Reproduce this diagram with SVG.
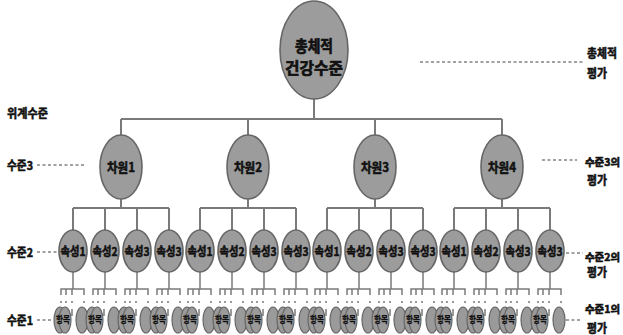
<svg xmlns="http://www.w3.org/2000/svg" width="623" height="335" viewBox="0 0 623 335">
<style>
text{font-family:"Noto Sans CJK KR","Noto Sans",sans-serif;font-weight:bold;fill:#111;stroke:#111;stroke-width:0.55;}
.e{fill:#9c9c9c;stroke:#666;stroke-width:1.6;}
.s{fill:#9a9a9a;stroke:#666;stroke-width:1.2;}
.ln{stroke:#7a7a7a;stroke-width:2;fill:none;}
.fk{stroke:#7a7a7a;stroke-width:1.5;fill:none;}
.ds{stroke:#444;stroke-width:1.2;fill:none;stroke-dasharray:3 2.5;}
.c{text-anchor:middle;}
.t1{font-size:16px;stroke-width:0.7;}
.t2{font-size:13px;}
.t3{font-size:12px;}
.lb{font-size:12px;}
.rb{font-size:10.5px;stroke-width:0.6;}
.lf{font-size:9px;stroke-width:0.3;}
</style>
<g id="connectors">
<path class="ln" d="M314 98V119M121 119H502M121 119V135M248 119V135M375 119V135M502 119V135"/>
<path class="ln" d="M121 199V208M73 208H169M73 208V230M105 208V230M137 208V230M169 208V230"/>
<path class="ln" d="M248 199V208M200 208H296M200 208V230M232 208V230M264 208V230M296 208V230"/>
<path class="ln" d="M375 199V208M327 208H423M327 208V230M359 208V230M391 208V230M423 208V230"/>
<path class="ln" d="M502 199V208M454 208H550M454 208V230M486 208V230M518 208V230M550 208V230"/>
<path class="fk" d="M73 272V289M61 295V289H84V295M66 289V295M72 289V295 M105 272V289M93 295V289H116V295M98 289V295M104 289V295 M137 272V289M125 295V289H148V295M130 289V295M136 289V295 M169 272V289M157 295V289H180V295M162 289V295M168 289V295"/>
<path class="fk" d="M200 272V289M188 295V289H211V295M193 289V295M199 289V295 M232 272V289M220 295V289H243V295M225 289V295M231 289V295 M264 272V289M252 295V289H275V295M257 289V295M263 289V295 M296 272V289M284 295V289H307V295M289 289V295M295 289V295"/>
<path class="fk" d="M327 272V289M315 295V289H338V295M320 289V295M326 289V295 M359 272V289M347 295V289H370V295M352 289V295M358 289V295 M391 272V289M379 295V289H402V295M384 289V295M390 289V295 M423 272V289M411 295V289H434V295M416 289V295M422 289V295"/>
<path class="fk" d="M454 272V289M442 295V289H465V295M447 289V295M453 289V295 M486 272V289M474 295V289H497V295M479 289V295M485 289V295 M518 272V289M506 295V289H529V295M511 289V295M517 289V295 M550 272V289M538 295V289H561V295M543 289V295M549 289V295"/>
<path class="fk" d="M61 301v2M66 301v2M72 301v2M84 301v2M93 301v2M98 301v2M104 301v2M116 301v2M125 301v2M130 301v2M136 301v2M148 301v2M157 301v2M162 301v2M168 301v2M180 301v2M188 301v2M193 301v2M199 301v2M211 301v2M220 301v2M225 301v2M231 301v2M243 301v2M252 301v2M257 301v2M263 301v2M275 301v2M284 301v2M289 301v2M295 301v2M307 301v2M315 301v2M320 301v2M326 301v2M338 301v2M347 301v2M352 301v2M358 301v2M370 301v2M379 301v2M384 301v2M390 301v2M402 301v2M411 301v2M416 301v2M422 301v2M434 301v2M442 301v2M447 301v2M453 301v2M465 301v2M474 301v2M479 301v2M485 301v2M497 301v2M506 301v2M511 301v2M517 301v2M529 301v2M538 301v2M543 301v2M549 301v2M561 301v2"/>
<path class="fk" d="M72 309v7M84 309v7M104 309v7M116 309v7M136 309v7M148 309v7M168 309v7M180 309v7M199 309v7M211 309v7M231 309v7M243 309v7M263 309v7M275 309v7M295 309v7M307 309v7M326 309v7M338 309v7M358 309v7M370 309v7M390 309v7M402 309v7M422 309v7M434 309v7M453 309v7M465 309v7M485 309v7M497 309v7M517 309v7M529 309v7M549 309v7M561 309v7"/>
<path class="ds" d="M420 62H585M37 165H85M542 160H577M37 252H58M566 253H583M37 320H52M566 320H582"/>
</g>
<g id="level-labels">
<text class="lb" x="7" y="118" textLength="41" lengthAdjust="spacingAndGlyphs">위계수준</text>
<text class="lb" x="7" y="170" textLength="26" lengthAdjust="spacingAndGlyphs">수준3</text>
<text class="lb" x="7" y="257" textLength="26" lengthAdjust="spacingAndGlyphs">수준2</text>
<text class="lb" x="7" y="325" textLength="26" lengthAdjust="spacingAndGlyphs">수준1</text>
<text class="lb" x="587" y="58" textLength="30" lengthAdjust="spacingAndGlyphs">총체적</text>
<text class="lb" x="587" y="78" textLength="20" lengthAdjust="spacingAndGlyphs">평가</text>
<text class="rb" x="585" y="166" textLength="35" lengthAdjust="spacingAndGlyphs">수준3의</text>
<text class="lb" x="587" y="185" textLength="20" lengthAdjust="spacingAndGlyphs">평가</text>
<text class="rb" x="585" y="261" textLength="35" lengthAdjust="spacingAndGlyphs">수준2의</text>
<text class="lb" x="587" y="277" textLength="20" lengthAdjust="spacingAndGlyphs">평가</text>
<text class="rb" x="585" y="313" textLength="35" lengthAdjust="spacingAndGlyphs">수준1의</text>
<text class="lb" x="587" y="333" textLength="20" lengthAdjust="spacingAndGlyphs">평가</text>
</g>
<g id="root">
<ellipse class="e" cx="314" cy="50" rx="34" ry="49"/>
<text class="t1 c" x="314" y="52" textLength="38" lengthAdjust="spacingAndGlyphs">총체적</text>
<text class="t1 c" x="314" y="74" textLength="58" lengthAdjust="spacingAndGlyphs">건강수준</text>
</g>
<g id="dim1"><ellipse class="e" cx="121" cy="167" rx="21" ry="32"/><text class="t2 c" x="121" y="172" textLength="28" lengthAdjust="spacingAndGlyphs">차원1</text></g>
<g id="dim2"><ellipse class="e" cx="248" cy="167" rx="21" ry="32"/><text class="t2 c" x="248" y="172" textLength="28" lengthAdjust="spacingAndGlyphs">차원2</text></g>
<g id="dim3"><ellipse class="e" cx="375" cy="167" rx="21" ry="32"/><text class="t2 c" x="375" y="172" textLength="28" lengthAdjust="spacingAndGlyphs">차원3</text></g>
<g id="dim4"><ellipse class="e" cx="502" cy="167" rx="21" ry="32"/><text class="t2 c" x="502" y="172" textLength="28" lengthAdjust="spacingAndGlyphs">차원4</text></g>
<g id="attr-1-1"><ellipse class="e" cx="73" cy="251" rx="14" ry="21"/><text class="t3 c" x="73" y="256" textLength="25" lengthAdjust="spacingAndGlyphs">속성1</text></g>
<g id="attr-1-2"><ellipse class="e" cx="105" cy="251" rx="14" ry="21"/><text class="t3 c" x="105" y="256" textLength="25" lengthAdjust="spacingAndGlyphs">속성2</text></g>
<g id="attr-1-3"><ellipse class="e" cx="137" cy="251" rx="14" ry="21"/><text class="t3 c" x="137" y="256" textLength="25" lengthAdjust="spacingAndGlyphs">속성3</text></g>
<g id="attr-1-4"><ellipse class="e" cx="169" cy="251" rx="14" ry="21"/><text class="t3 c" x="169" y="256" textLength="25" lengthAdjust="spacingAndGlyphs">속성3</text></g>
<g id="attr-2-1"><ellipse class="e" cx="200" cy="251" rx="14" ry="21"/><text class="t3 c" x="200" y="256" textLength="25" lengthAdjust="spacingAndGlyphs">속성1</text></g>
<g id="attr-2-2"><ellipse class="e" cx="232" cy="251" rx="14" ry="21"/><text class="t3 c" x="232" y="256" textLength="25" lengthAdjust="spacingAndGlyphs">속성2</text></g>
<g id="attr-2-3"><ellipse class="e" cx="264" cy="251" rx="14" ry="21"/><text class="t3 c" x="264" y="256" textLength="25" lengthAdjust="spacingAndGlyphs">속성3</text></g>
<g id="attr-2-4"><ellipse class="e" cx="296" cy="251" rx="14" ry="21"/><text class="t3 c" x="296" y="256" textLength="25" lengthAdjust="spacingAndGlyphs">속성3</text></g>
<g id="attr-3-1"><ellipse class="e" cx="327" cy="251" rx="14" ry="21"/><text class="t3 c" x="327" y="256" textLength="25" lengthAdjust="spacingAndGlyphs">속성1</text></g>
<g id="attr-3-2"><ellipse class="e" cx="359" cy="251" rx="14" ry="21"/><text class="t3 c" x="359" y="256" textLength="25" lengthAdjust="spacingAndGlyphs">속성2</text></g>
<g id="attr-3-3"><ellipse class="e" cx="391" cy="251" rx="14" ry="21"/><text class="t3 c" x="391" y="256" textLength="25" lengthAdjust="spacingAndGlyphs">속성3</text></g>
<g id="attr-3-4"><ellipse class="e" cx="423" cy="251" rx="14" ry="21"/><text class="t3 c" x="423" y="256" textLength="25" lengthAdjust="spacingAndGlyphs">속성3</text></g>
<g id="attr-4-1"><ellipse class="e" cx="454" cy="251" rx="14" ry="21"/><text class="t3 c" x="454" y="256" textLength="25" lengthAdjust="spacingAndGlyphs">속성1</text></g>
<g id="attr-4-2"><ellipse class="e" cx="486" cy="251" rx="14" ry="21"/><text class="t3 c" x="486" y="256" textLength="25" lengthAdjust="spacingAndGlyphs">속성2</text></g>
<g id="attr-4-3"><ellipse class="e" cx="518" cy="251" rx="14" ry="21"/><text class="t3 c" x="518" y="256" textLength="25" lengthAdjust="spacingAndGlyphs">속성3</text></g>
<g id="attr-4-4"><ellipse class="e" cx="550" cy="251" rx="14" ry="21"/><text class="t3 c" x="550" y="256" textLength="25" lengthAdjust="spacingAndGlyphs">속성3</text></g>
<g id="items-1-1"><ellipse class="s" cx="82" cy="320" rx="6" ry="13"/><ellipse class="s" cx="60" cy="320" rx="6" ry="13"/><ellipse class="s" cx="65" cy="320" rx="6" ry="13"/><text class="lf c" x="63" y="323" textLength="14" lengthAdjust="spacingAndGlyphs">항목</text></g>
<g id="items-1-2"><ellipse class="s" cx="114" cy="320" rx="6" ry="13"/><ellipse class="s" cx="92" cy="320" rx="6" ry="13"/><ellipse class="s" cx="97" cy="320" rx="6" ry="13"/><text class="lf c" x="95" y="323" textLength="14" lengthAdjust="spacingAndGlyphs">항목</text></g>
<g id="items-1-3"><ellipse class="s" cx="146" cy="320" rx="6" ry="13"/><ellipse class="s" cx="124" cy="320" rx="6" ry="13"/><ellipse class="s" cx="129" cy="320" rx="6" ry="13"/><text class="lf c" x="127" y="323" textLength="14" lengthAdjust="spacingAndGlyphs">항목</text></g>
<g id="items-1-4"><ellipse class="s" cx="178" cy="320" rx="6" ry="13"/><ellipse class="s" cx="156" cy="320" rx="6" ry="13"/><ellipse class="s" cx="161" cy="320" rx="6" ry="13"/><text class="lf c" x="159" y="323" textLength="14" lengthAdjust="spacingAndGlyphs">항목</text></g>
<g id="items-2-1"><ellipse class="s" cx="209" cy="320" rx="6" ry="13"/><ellipse class="s" cx="187" cy="320" rx="6" ry="13"/><ellipse class="s" cx="192" cy="320" rx="6" ry="13"/><text class="lf c" x="190" y="323" textLength="14" lengthAdjust="spacingAndGlyphs">항목</text></g>
<g id="items-2-2"><ellipse class="s" cx="241" cy="320" rx="6" ry="13"/><ellipse class="s" cx="219" cy="320" rx="6" ry="13"/><ellipse class="s" cx="224" cy="320" rx="6" ry="13"/><text class="lf c" x="222" y="323" textLength="14" lengthAdjust="spacingAndGlyphs">항목</text></g>
<g id="items-2-3"><ellipse class="s" cx="273" cy="320" rx="6" ry="13"/><ellipse class="s" cx="251" cy="320" rx="6" ry="13"/><ellipse class="s" cx="256" cy="320" rx="6" ry="13"/><text class="lf c" x="254" y="323" textLength="14" lengthAdjust="spacingAndGlyphs">항목</text></g>
<g id="items-2-4"><ellipse class="s" cx="305" cy="320" rx="6" ry="13"/><ellipse class="s" cx="283" cy="320" rx="6" ry="13"/><ellipse class="s" cx="288" cy="320" rx="6" ry="13"/><text class="lf c" x="286" y="323" textLength="14" lengthAdjust="spacingAndGlyphs">항목</text></g>
<g id="items-3-1"><ellipse class="s" cx="336" cy="320" rx="6" ry="13"/><ellipse class="s" cx="314" cy="320" rx="6" ry="13"/><ellipse class="s" cx="319" cy="320" rx="6" ry="13"/><text class="lf c" x="317" y="323" textLength="14" lengthAdjust="spacingAndGlyphs">항목</text></g>
<g id="items-3-2"><ellipse class="s" cx="368" cy="320" rx="6" ry="13"/><ellipse class="s" cx="346" cy="320" rx="6" ry="13"/><ellipse class="s" cx="351" cy="320" rx="6" ry="13"/><text class="lf c" x="349" y="323" textLength="14" lengthAdjust="spacingAndGlyphs">항목</text></g>
<g id="items-3-3"><ellipse class="s" cx="400" cy="320" rx="6" ry="13"/><ellipse class="s" cx="378" cy="320" rx="6" ry="13"/><ellipse class="s" cx="383" cy="320" rx="6" ry="13"/><text class="lf c" x="381" y="323" textLength="14" lengthAdjust="spacingAndGlyphs">항목</text></g>
<g id="items-3-4"><ellipse class="s" cx="432" cy="320" rx="6" ry="13"/><ellipse class="s" cx="410" cy="320" rx="6" ry="13"/><ellipse class="s" cx="415" cy="320" rx="6" ry="13"/><text class="lf c" x="413" y="323" textLength="14" lengthAdjust="spacingAndGlyphs">항목</text></g>
<g id="items-4-1"><ellipse class="s" cx="463" cy="320" rx="6" ry="13"/><ellipse class="s" cx="441" cy="320" rx="6" ry="13"/><ellipse class="s" cx="446" cy="320" rx="6" ry="13"/><text class="lf c" x="444" y="323" textLength="14" lengthAdjust="spacingAndGlyphs">항목</text></g>
<g id="items-4-2"><ellipse class="s" cx="495" cy="320" rx="6" ry="13"/><ellipse class="s" cx="473" cy="320" rx="6" ry="13"/><ellipse class="s" cx="478" cy="320" rx="6" ry="13"/><text class="lf c" x="476" y="323" textLength="14" lengthAdjust="spacingAndGlyphs">항목</text></g>
<g id="items-4-3"><ellipse class="s" cx="527" cy="320" rx="6" ry="13"/><ellipse class="s" cx="505" cy="320" rx="6" ry="13"/><ellipse class="s" cx="510" cy="320" rx="6" ry="13"/><text class="lf c" x="508" y="323" textLength="14" lengthAdjust="spacingAndGlyphs">항목</text></g>
<g id="items-4-4"><ellipse class="s" cx="559" cy="320" rx="6" ry="13"/><ellipse class="s" cx="537" cy="320" rx="6" ry="13"/><ellipse class="s" cx="542" cy="320" rx="6" ry="13"/><text class="lf c" x="540" y="323" textLength="14" lengthAdjust="spacingAndGlyphs">항목</text></g>
</svg>
